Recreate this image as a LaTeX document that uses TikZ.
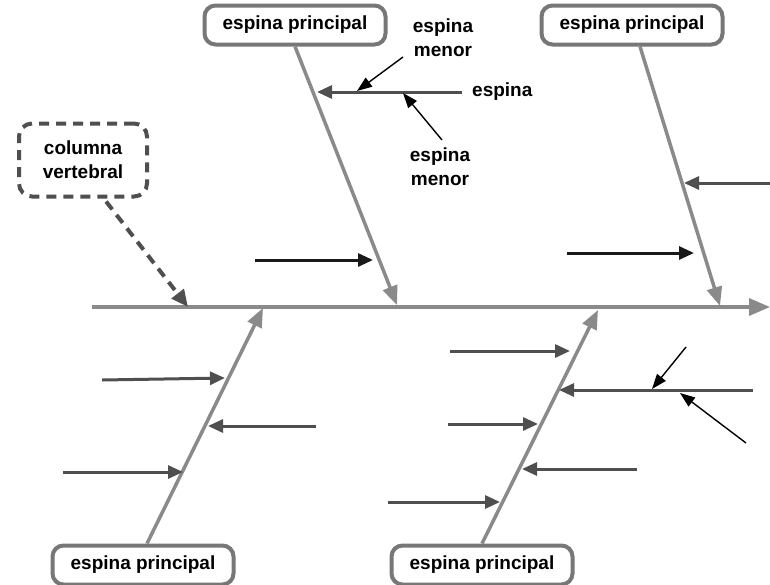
\documentclass[tikz,border=0pt]{standalone}
\usepackage{fontspec}
\setmainfont{Liberation Sans}
\usetikzlibrary{arrows.meta,positioning,calc}
\definecolor{boneGrey}{HTML}{8a8a8a}
\definecolor{ribGrey}{HTML}{4f4f4f}
\definecolor{boxGrey}{HTML}{777777}
\tikzset{
  mainbox/.style={rounded corners=11pt, draw=boxGrey, line width=4pt, fill=white,
              minimum width=181pt, minimum height=39pt, inner sep=2pt,
              font=\bfseries\fontsize{19}{22}\selectfont},
  spinebox/.style={rounded corners=13pt, draw=ribGrey, line width=4pt, fill=white,
              dash pattern=on 10pt off 7pt, minimum width=128pt, minimum height=73pt,
              align=center, font=\bfseries\fontsize{19}{24}\selectfont},
  lbl/.style={align=center, inner sep=1pt, font=\bfseries\fontsize{19}{24}\selectfont},
  spine/.style={-{Triangle[length=21pt,width=17pt]}, draw=boneGrey, line width=3.5pt},
  bone/.style={-{Triangle[length=19pt,width=15pt]}, draw=boneGrey, line width=3.5pt},
  rib/.style={-{Triangle[length=15pt,width=13pt]}, draw=ribGrey, line width=3pt},
  dark/.style={-{Triangle[length=15pt,width=13pt]}, draw=black!90, line width=3pt},
  tick/.style={-{Triangle[length=15pt,width=11pt]}, draw=black, line width=1.4pt},
  pointer/.style={-{Triangle[length=17pt,width=15pt]}, draw=ribGrey, line width=4pt,
              dash pattern=on 10pt off 7pt},
}

\begin{document}
\begin{tikzpicture}[x=1pt,y=-1pt]
  \useasboundingbox (0,0) rectangle (770,584);
  % spine
  \coordinate (tail) at (92,307);
  \coordinate (head) at (770,307);
  \draw[spine] (tail) -- (head);
  % main bones
  \node[mainbox] (ptl) at (295,25) {espina principal};
  \node[mainbox] (ptr) at (632,25) {espina principal};
  \node[mainbox] (pbl) at (143,565) {espina principal};
  \node[mainbox] (pbr) at (482,565) {espina principal};
  \coordinate (ptlend) at (397,305);
  \coordinate (ptrend) at (720,306);
  \coordinate (pblend) at (263,308);
  \coordinate (pbrend) at (598,310);
  \draw[bone] (ptl.south) -- (ptlend);
  \draw[bone] ($(ptr.south)+(8,0)$) -- (ptrend);
  \draw[bone] ($(pbl.north)+(4,0)$) -- (pblend);
  \draw[bone] (pbr.north) -- (pbrend);
  % columna vertebral
  \node[spinebox] (cv) at (83,160) {columna\\vertebral};
  \coordinate (cvend) at (188,307);
  \draw[pointer] ($(cv.south)!0.35!(cv.south east)+(0,3)$) -- (cvend);
  % top left bone
  \coordinate (e1a) at (462,92);  \coordinate (e1b) at (317,92);
  \draw[rib] (e1a) -- (e1b);
  \node[lbl, right=9pt of e1a] (espina) {espina};
  \node[lbl] (menor1) at (443,38) {espina\\menor};
  \node[lbl] (menor2) at (440,167) {espina\\menor};
  \coordinate (m1a) at (403,57);  \coordinate (m1b) at (357,91);
  \coordinate (m2a) at (442,140); \coordinate (m2b) at (403,93);
  \draw[tick] (m1a) -- (m1b);
  \draw[tick] (m2a) -- (m2b);
  \coordinate (e2a) at (255,260); \coordinate (e2b) at (373,260);
  \draw[dark] (e2a) -- (e2b);
  % top right bone
  \coordinate (e3a) at (770,183); \coordinate (e3b) at (684,183);
  \draw[rib] (e3a) -- (e3b);
  \coordinate (e4a) at (567,253); \coordinate (e4b) at (694,253);
  \draw[dark] (e4a) -- (e4b);
  % bottom left bone
  \coordinate (e5a) at (102,380); \coordinate (e5b) at (225,378);
  \coordinate (e6a) at (316,426); \coordinate (e6b) at (208,426);
  \coordinate (e7a) at (63,472);  \coordinate (e7b) at (183,472);
  \draw[rib] (e5a) -- (e5b);
  \draw[rib] (e6a) -- (e6b);
  \draw[rib] (e7a) -- (e7b);
  % bottom right bone
  \coordinate (e8a) at (450,351);  \coordinate (e8b) at (570,351);
  \coordinate (e9a) at (753,390);  \coordinate (e9b) at (559,390);
  \coordinate (e10a) at (448,424); \coordinate (e10b) at (538,424);
  \coordinate (e11a) at (637,469); \coordinate (e11b) at (522,469);
  \coordinate (e12a) at (388,502); \coordinate (e12b) at (500,502);
  \foreach \r in {8,9,10,11,12}{\draw[rib] (e\r a) -- (e\r b);}
  \coordinate (m3a) at (686,347); \coordinate (m3b) at (652,389);
  \coordinate (m4a) at (746,443); \coordinate (m4b) at (680,393);
  \draw[tick] (m3a) -- (m3b);
  \draw[tick] (m4a) -- (m4b);
\end{tikzpicture}
\end{document}
